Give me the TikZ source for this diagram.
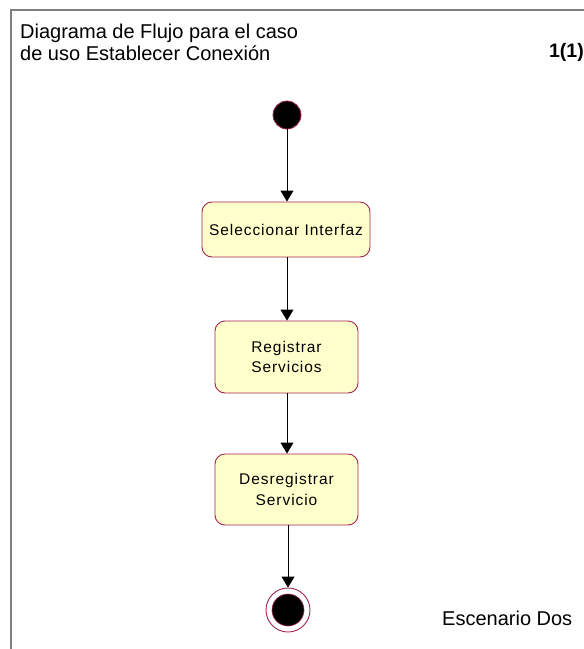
\documentclass[tikz,border=0pt]{standalone}
\usepackage{fontspec}
\setmainfont{Liberation Sans}
\newfontfamily\boxfont[LetterSpace=6]{Liberation Sans}
\usetikzlibrary{arrows.meta}
\definecolor{umlfill}{HTML}{FFFFCC}
\definecolor{umledge}{HTML}{A3264F}
\definecolor{framegray}{HTML}{7F7F7F}
\begin{document}
\begin{tikzpicture}[x=1pt,y=-1pt,
  activity/.style={draw=umledge, line width=0.9pt, fill=umlfill, rounded corners=10pt,
    align=center, inner sep=0pt, font=\boxfont\fontsize{15.5}{20.5}\selectfont},
  flow/.style={line width=0.9pt, -{Triangle[width=13pt,length=11pt]}},
  titletext/.style={font=\fontsize{20}{22}\selectfont, inner sep=0pt}]
\useasboundingbox (0,0) rectangle (584,649);

% diagram frame
\draw[framegray, line width=1.5pt] (11,649) -- (11,10) -- (584,10);

% headings
\node[titletext, anchor=north west, align=left] (title) at (20,24)
  {Diagrama de Flujo para el caso\\de uso Establecer Conexión};
\node[titletext, anchor=base east, font=\bfseries\fontsize{19.5}{22}\selectfont] (page) at (584,57) {1(1)};
\node[titletext, anchor=base west] (scenario) at (442,625) {Escenario Dos};

% start and final states
\node[circle, fill=black, draw=umledge, line width=0.8pt, minimum size=28pt, inner sep=0pt] (start) at (287,115) {};
\node[circle, draw=umledge, line width=0.9pt, fill=white, minimum size=44pt, inner sep=0pt] (final) at (288,610) {};
\node[circle, fill=black, draw=umledge, line width=0.6pt, minimum size=32pt, inner sep=0pt] (finalcore) at (final.center) {};

% activities
\node[activity, minimum width=168pt, minimum height=55pt] (sel) at (286,229.5) {Seleccionar Interfaz};
\node[activity, minimum width=143pt, minimum height=72pt] (reg) at (286.5,357) {Registrar\\Servicios};
\node[activity, minimum width=143pt, minimum height=71pt] (des) at (286.5,489.5) {Desregistrar\\Servicio};

% transitions
\draw[flow] (start.south) -- (start.south |- sel.north);
\draw[flow] (sel.south -| start) -- (start |- reg.north);
\draw[flow] (reg.south -| start) -- (start |- des.north);
\draw[flow] (des.south -| final) -- (final.north);
\end{tikzpicture}
\end{document}
